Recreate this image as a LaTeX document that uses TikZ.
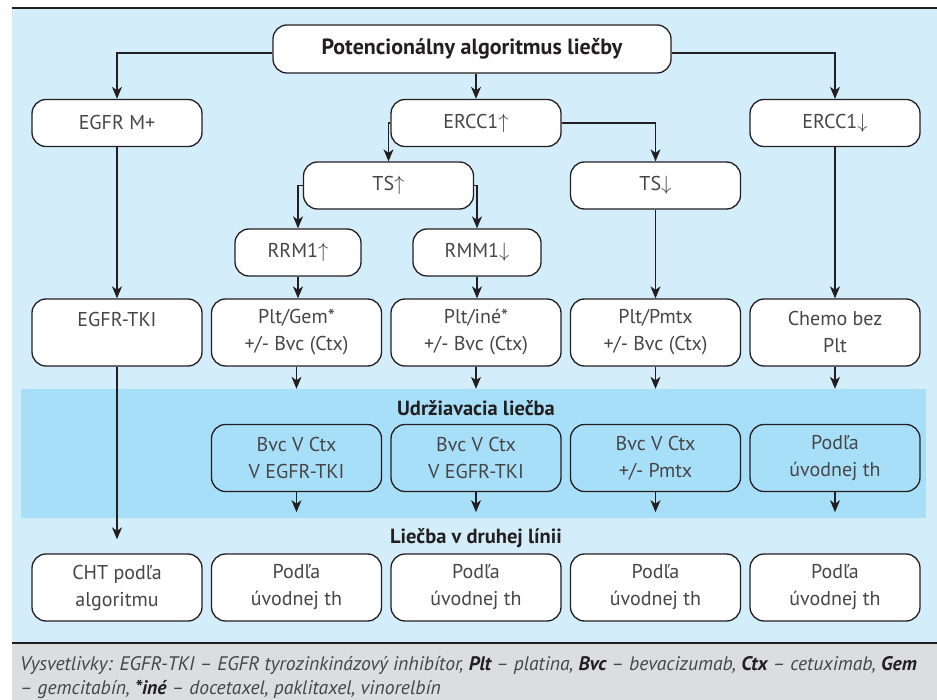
\documentclass[tikz,border=0pt]{standalone}
\usepackage{fontspec}
\setmainfont{PT Sans}
\usetikzlibrary{arrows.meta}
\definecolor{bgblue}{RGB}{212,237,250}
\definecolor{bandblue}{RGB}{168,223,248}
\definecolor{notegray}{RGB}{220,221,222}
\definecolor{ink}{RGB}{35,31,32}
\definecolor{txt}{RGB}{70,69,71}
\newcommand{\boxline}{1.3pt}
\newcommand{\cornerrad}{14pt}
\newcommand{\boxw}{170pt}
\newcommand{\abbr}[1]{\textbf{\color{ink}#1}}

\begin{document}
\begin{tikzpicture}[x=1pt,y=-1pt,
  box/.style={draw=ink, line width=\boxline, fill=white, rounded corners=\cornerrad,
    minimum width=\boxw, minimum height=47pt, inner sep=0pt, align=center,
    text=txt, font=\fontsize{20}{27}\selectfont},
  tall/.style={box, minimum height=67pt},
  head/.style={text=ink, font=\bfseries\fontsize{20.5}{24}\selectfont},
  note/.style={anchor=base west, inner sep=0pt, text=txt, font=\itshape\fontsize{19.6}{23}\selectfont},
  arr/.style={draw=ink, line width=1.2pt, -{Stealth[length=12pt,width=10pt,inset=3.5pt]}}]
\useasboundingbox (0,0) rectangle (937,700);
%background
\fill[bgblue] (12,9) rectangle (937,643);
\fill[notegray] (12,643) rectangle (937,700);
\draw[ink, line width=2.5pt] (12,8) -- (937,8);
\draw[ink, line width=1.2pt] (12,643) -- (937,643);
\node[fill=bandblue, minimum width=905pt, minimum height=129pt, inner sep=0pt] (band) at (473.5,453.5) {};
\node[head, anchor=base] (maintlbl) at (476,415) {Udržiavacia liečba};
\node[head, anchor=base] (secondlbl) at (476,543) {Liečba v druhej línii};
%row 1
\node[box, minimum width=398pt, minimum height=48pt, text=ink, font=\bfseries\fontsize{22}{26}\selectfont] (top) at (472,49) {Potencionálny algoritmus liečby};
\node[box] (egfr) at (117,123) {EGFR M+};
\node[box] (ercc1u) at (476,123) {ERCC1$\uparrow$};
\node[box] (ercc1d) at (835,123) {ERCC1$\downarrow$};
\node[box] (tsu) at (388.5,185.5) {TS$\uparrow$};
\node[box] (tsd) at (655.5,185.5) {TS$\downarrow$};
\node[box, minimum width=126pt] (rrm) at (298,252.5) {RRM1$\uparrow$};
\node[box, minimum width=128pt] (rmm) at (477,252.5) {RMM1$\downarrow$};
%row 2
\node[tall] (tki) at (117,332.5) {EGFR-TKI\\~};
\node[tall] (plt1) at (296.5,332.5) {Plt/Gem*\\+/- Bvc (Ctx)};
\node[tall] (plt2) at (476,332.5) {Plt/iné*\\+/- Bvc (Ctx)};
\node[tall] (plt3) at (655.5,332.5) {Plt/Pmtx\\+/- Bvc (Ctx)};
\node[tall] (chemo) at (835,332.5) {Chemo bez\\Plt};
%udrziavacia
\node[tall, fill=bandblue] (m1) at (296.5,458) {Bvc V Ctx\\V EGFR-TKI};
\node[tall, fill=bandblue] (m2) at (476,458) {Bvc V Ctx\\V EGFR-TKI};
\node[tall, fill=bandblue] (m3) at (655.5,458) {Bvc V Ctx\\+/- Pmtx};
\node[tall, fill=bandblue] (m4) at (835,458) {Podľa\\úvodnej th};
%druha linia
\node[tall] (cht) at (117,587.5) {CHT podľa\\algoritmu};
\node[tall] (s1) at (296.5,587.5) {Podľa\\úvodnej th};
\node[tall] (s2) at (476,587.5) {Podľa\\úvodnej th};
\node[tall] (s3) at (655.5,587.5) {Podľa\\úvodnej th};
\node[tall] (s4) at (835,587.5) {Podľa\\úvodnej th};
%arrows
\draw[arr] ([yshift=-4pt]top.west) -| (egfr.north);
\draw[arr] (top.south -| ercc1u.north) -- (ercc1u.north);
\draw[arr] ([yshift=-4pt]top.east) -| (ercc1d.north);
\draw[arr] (ercc1u.west) -| (tsu.north);
\draw[arr] (ercc1u.east) -| (tsd.north);
\draw[arr] (tsu.west) -| (rrm.north);
\draw[arr] (tsu.east) -| (rmm.north);
\draw[arr] (rrm.south) -- (rrm.south |- plt1.north);
\draw[arr] (rmm.south) -- (rmm.south |- plt2.north);
\draw[arr] (tsd) -- (plt3);
\draw[arr] (ercc1d) -- (chemo);
\draw[arr] (egfr) -- (tki);
\draw[arr, shorten >=14pt] (tki) -- (cht);
\draw[arr] (plt1.south) -- (plt1.south |- band.north);
\draw[arr] (plt2.south) -- (plt2.south |- band.north);
\draw[arr] (plt3.south) -- (plt3.south |- band.north);
\draw[arr] (chemo.south) -- (chemo.south |- band.north);
\draw[arr, shorten >=6pt] (m1.south) -- (m1.south |- band.south);
\draw[arr, shorten >=6pt] (m2.south) -- (m2.south |- band.south);
\draw[arr, shorten >=6pt] (m3.south) -- (m3.south |- band.south);
\draw[arr, shorten >=6pt] (m4.south) -- (m4.south |- band.south);
%vysvetlivky
\node[note] (note1) at (20,670) {Vysvetlivky: EGFR-TKI – EGFR tyrozinkinázový inhibítor, \abbr{Plt} – platina, \abbr{Bvc} – bevacizumab, \abbr{Ctx} – cetuximab, \abbr{Gem}};
\node[note] (note2) at (20,694) {– gemcitabín, \abbr{*iné} – docetaxel, paklitaxel, vinorelbín};
\end{tikzpicture}
\end{document}
